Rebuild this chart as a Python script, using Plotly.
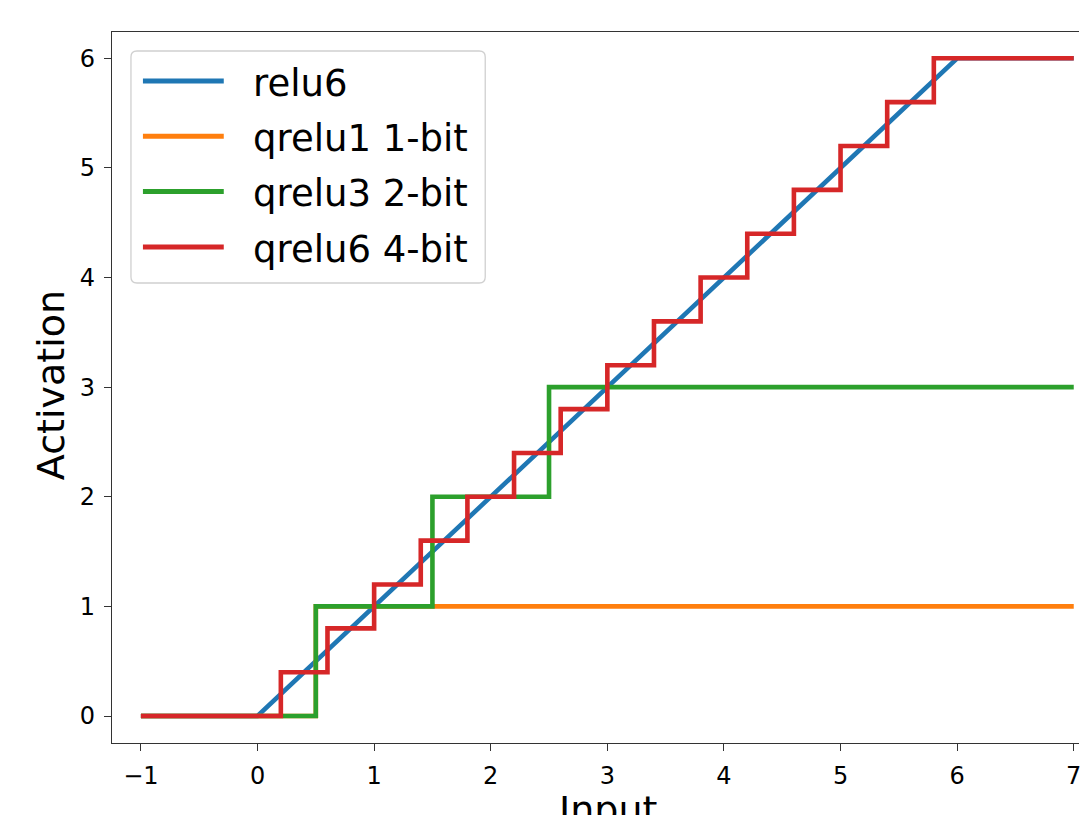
import plotly.graph_objects as go

# ---- data ----
names = ["relu6", "qrelu1 1-bit", "qrelu3 2-bit", "qrelu6 4-bit"]
colors = ["#1f77b4", "#ff7f0e", "#2ca02c", "#d62728"]

relu6_x = [-1, 0, 6, 7]
relu6_y = [0, 0, 6, 6]

qrelu1_x = [-1, 0.5, 7]
qrelu1_y = [0, 1, 1]

qrelu3_x = [-1, 0.5, 1.5, 2.5, 7]
qrelu3_y = [0, 1, 2, 3, 3]

qrelu6_x = [-1, 0.2, 0.6, 1.0, 1.4, 1.8, 2.2, 2.6, 3.0, 3.4, 3.8, 4.2, 4.6, 5.0, 5.4, 5.8, 7]
qrelu6_y = [0, 0.4, 0.8, 1.2, 1.6, 2.0, 2.4, 2.8, 3.2, 3.6, 4.0, 4.4, 4.8, 5.2, 5.6, 6.0, 6.0]

x_tickvals = [-1, 0, 1, 2, 3, 4, 5, 6, 7]
x_ticktext = ["\u22121", "0", "1", "2", "3", "4", "5", "6", "7"]
y_tickvals = [0, 1, 2, 3, 4, 5, 6]
y_ticktext = ["0", "1", "2", "3", "4", "5", "6"]

# ---- layout geometry (pixels) ----
W, H = 1081, 815
L, R, T, B = 112, 0, 32, 72
PW, PH = W - L - R, H - T - B


def px(xp):
    return (xp - L) / PW


def py(yp):
    return 1 - (yp - T) / PH


series = [
    (relu6_x, relu6_y, "linear"),
    (qrelu1_x, qrelu1_y, "hv"),
    (qrelu3_x, qrelu3_y, "hv"),
    (qrelu6_x, qrelu6_y, "hv"),
]

fig = go.Figure()
for (xs, ys, shape), name, col in zip(series, names, colors):
    fig.add_trace(go.Scatter(
        x=xs, y=ys, mode="lines", name=name,
        line=dict(color=col, width=4.6, shape=shape),
        showlegend=False, hoverinfo="skip",
    ))

font_family = "DejaVu Sans"
axis_col = "#333333"

fig.update_layout(
    width=W, height=H, autosize=False,
    margin=dict(l=L, r=R, t=T, b=B, pad=0),
    paper_bgcolor="white", plot_bgcolor="white",
    font=dict(family=font_family, color="black"),
    xaxis=dict(
        range=[-1.248, 7.045], tickvals=x_tickvals, ticktext=x_ticktext,
        showgrid=False, zeroline=False, showline=True, linecolor=axis_col,
        linewidth=1.3, mirror=True, ticks="outside", ticklen=7, tickwidth=1.3,
        tickcolor=axis_col, tickfont=dict(size=24, color="black"),
        ticklabelstandoff=4, ticklabeloverflow="allow",
    ),
    yaxis=dict(
        range=[-0.246, 6.24], tickvals=y_tickvals, ticktext=y_ticktext,
        showgrid=False, zeroline=False, showline=True, linecolor=axis_col,
        linewidth=1.3, mirror=False, ticks="outside", ticklen=7, tickwidth=1.3,
        tickcolor=axis_col, tickfont=dict(size=24, color="black"),
        ticklabelstandoff=4, ticklabeloverflow="allow",
    ),
)

# legend box (rounded rectangle)
bx0, bx1, by0, by1, r = 131, 486, 51, 283, 6
path = (
    f"M {px(bx0 + r)},{py(by0)} L {px(bx1 - r)},{py(by0)} "
    f"Q {px(bx1)},{py(by0)} {px(bx1)},{py(by0 + r)} "
    f"L {px(bx1)},{py(by1 - r)} Q {px(bx1)},{py(by1)} {px(bx1 - r)},{py(by1)} "
    f"L {px(bx0 + r)},{py(by1)} Q {px(bx0)},{py(by1)} {px(bx0)},{py(by1 - r)} "
    f"L {px(bx0)},{py(by0 + r)} Q {px(bx0)},{py(by0)} {px(bx0 + r)},{py(by0)} Z"
)
shapes = [dict(type="path", path=path, xref="paper", yref="paper",
               fillcolor="rgba(255,255,255,0.8)",
               line=dict(color="#d0d0d0", width=1.3), layer="above")]
annotations = []
row_y = [81, 136.3, 191.6, 247]
for name, col, yy in zip(names, colors, row_y):
    shapes.append(dict(type="line", xref="paper", yref="paper",
                       x0=px(143), x1=px(224), y0=py(yy), y1=py(yy),
                       line=dict(color=col, width=5), layer="above"))
    annotations.append(dict(text=name, xref="paper", yref="paper",
                            x=px(251), y=py(yy + 2), xanchor="left", yanchor="middle",
                            showarrow=False, font=dict(size=37, color="black",
                                                       family=font_family)))

# axis titles
annotations.append(dict(text="Activation", xref="paper", yref="paper",
                        x=px(51), y=py(385), xanchor="center", yanchor="middle",
                        textangle=-90, showarrow=False,
                        font=dict(size=38, color="black", family=font_family)))
annotations.append(dict(text="Input", xref="paper", yref="paper",
                        x=px(609), y=py(786), xanchor="center", yanchor="top",
                        showarrow=False,
                        font=dict(size=38, color="black", family=font_family)))

fig.update_layout(shapes=shapes, annotations=annotations)

fig.write_html(
    "out.html",
    config={"displayModeBar": False},
    post_script="document.body.style.margin='0';document.body.style.overflow='hidden';",
)
